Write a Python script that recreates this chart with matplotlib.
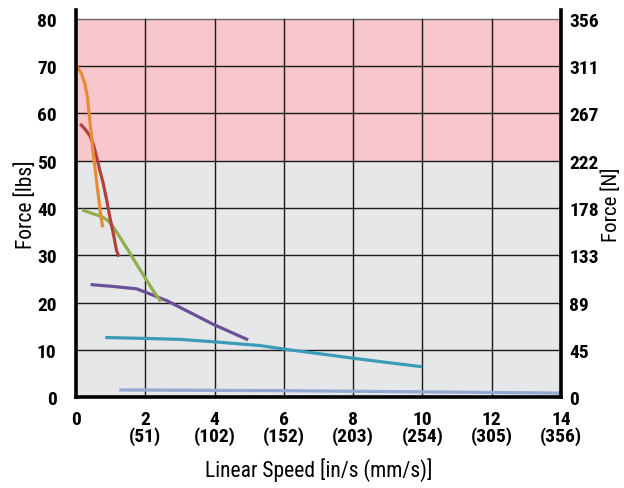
"""Force vs. linear speed chart with lbs / N dual axis."""

import matplotlib

matplotlib.use("Agg")

import matplotlib.pyplot as plt
from matplotlib.ticker import FixedLocator

PINK = "#F8C6CB"
GRAY_BG = "#E6E7E9"
FONT = ["Roboto Condensed", "Roboto", "DejaVu Sans"]

# Curves: speed [in/s], force [lbs]
orange_x = [0.04, 0.16, 0.26, 0.33, 0.38, 0.44, 0.50, 0.58, 0.65, 0.71, 0.77]
orange_y = [69.9, 68.4, 66.2, 63.4, 59.9, 55.7, 51.4, 46.5, 42.3, 38.7, 35.9]

red_x = [0.12, 0.26, 0.40, 0.50, 0.60, 0.69, 0.79, 0.89, 0.98, 1.08, 1.17, 1.24]
red_y = [57.8, 56.7, 55.3, 53.5, 50.7, 47.9, 45.1, 41.5, 38.0, 34.5, 31.0, 29.7]

green_x = [0.18, 0.45, 0.74, 0.93, 1.08, 1.27, 1.51, 1.75, 1.99, 2.23, 2.45]
green_y = [39.6, 38.9, 38.2, 37.3, 35.9, 33.8, 31.0, 28.1, 25.3, 22.5, 20.2]

purple_x = [0.42, 1.08, 1.75, 2.14, 2.62, 3.29, 3.96, 4.97]
purple_y = [23.8, 23.4, 22.9, 21.8, 20.4, 17.9, 15.4, 12.1]

teal_x = [0.84, 2.04, 3.00, 3.96, 5.31, 6.05, 7.0, 8.02, 9.0, 10.0]
teal_y = [12.6, 12.4, 12.2, 11.7, 10.9, 10.1, 9.2, 8.2, 7.3, 6.4]

blue_x = [1.25, 6.0, 10.0, 14.0]
blue_y = [1.5, 1.35, 1.1, 0.84]

x_ticks = [0, 2, 4, 6, 8, 10, 12, 14]
x_labels = ["0", "2\n(51)", "4\n(102)", "6\n(152)", "8\n(203)",
            "10\n(254)", "12\n(305)", "14\n(356)"]
y_ticks = [0, 10, 20, 30, 40, 50, 60, 70, 80]
n_labels = ["0", "45", "89", "133", "178", "222", "267", "311", "356"]

plt.rcParams["font.family"] = FONT

fig = plt.figure(figsize=(6.24, 4.89), dpi=100)
ax = fig.add_axes([0.1218, 0.186, 0.777, 0.7915])

YMAX = 81.9
ax.set_xlim(0, 14)
ax.set_ylim(0, YMAX)

# background zones
ax.axhspan(0, 50, color=GRAY_BG, lw=0, zorder=0)
ax.axhspan(50, 80, color=PINK, lw=0, zorder=0)
ax.axhline(80, color="#6b6b6b", lw=1.0, zorder=1)

# grid
for xv in x_ticks[1:-1]:
    ax.plot([xv, xv], [0, 80], color="#1a1a1a", lw=1.0, zorder=1)
for yv in y_ticks[1:-1]:
    ax.axhline(yv, color="#1a1a1a", lw=1.0, zorder=1)

curves = [
    (blue_x, blue_y, "#93A9D3"),
    (teal_x, teal_y, "#3A9CB6"),
    (purple_x, purple_y, "#6B4F98"),
    (green_x, green_y, "#8DB04B"),
    (red_x, red_y, "#B3403E"),
    (orange_x, orange_y, "#E88B37"),
]
for xs, ys, col in curves:
    ax.plot(xs, ys, color=col, lw=2.3, solid_capstyle="butt",
            solid_joinstyle="round", zorder=3)

for side in ("left", "bottom", "right"):
    ax.spines[side].set_linewidth(2.6)
    ax.spines[side].set_color("black")
    ax.spines[side].set_zorder(5)
ax.spines["top"].set_visible(False)

TICK_FS = 14
ax.set_xticks(x_ticks)
ax.set_xticklabels(x_labels, fontsize=TICK_FS, linespacing=0.9)
ax.yaxis.set_major_locator(FixedLocator(y_ticks))
ax.set_yticklabels([str(v) for v in y_ticks], fontsize=TICK_FS,
                   fontweight="bold")
ax.tick_params(axis="y", length=0, pad=14)
ax.tick_params(axis="x", length=0, pad=9)
for lab in ax.get_xticklabels():
    lab.set_fontweight("bold")

ax2 = ax.twinx()
ax2.set_ylim(0, YMAX)
ax2.yaxis.set_major_locator(FixedLocator(y_ticks))
ax2.set_yticklabels(n_labels, fontsize=TICK_FS, fontweight="bold")
ax2.tick_params(axis="y", length=0, pad=6)
for side in ("left", "bottom", "top", "right"):
    ax2.spines[side].set_visible(False)

ax.set_ylabel("Force [lbs]", fontsize=15.5, labelpad=0)
ax2.set_ylabel("Force [N]", fontsize=15, labelpad=2)
ax.set_xlabel("Linear Speed [in/s (mm/s)]", fontsize=15.5, labelpad=9)

fig.savefig("out.png", dpi=100)
